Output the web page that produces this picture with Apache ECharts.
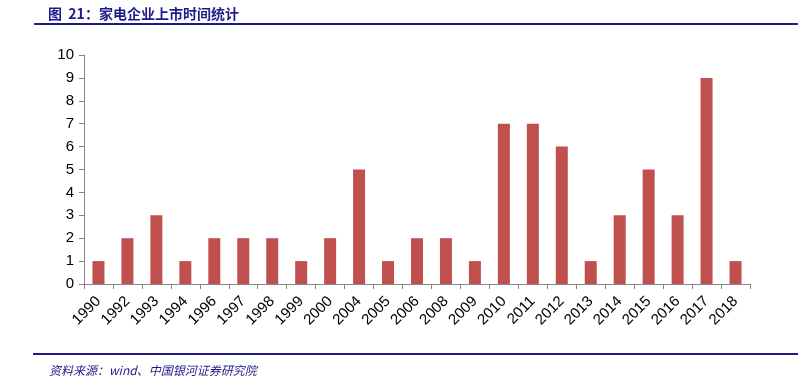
<!DOCTYPE html>
<html>
<head>
<meta charset="utf-8">
<script src="https://cdn.jsdelivr.net/npm/echarts@6/dist/echarts.min.js"></script>
<style>
html,body{margin:0;padding:0;background:#fff;}
#main{width:798px;height:378px;}
</style>
</head>
<body>
<div id="main"></div>
<script>
var years = ['1990','1992','1993','1994','1996','1997','1998','1999','2000','2004','2005','2006','2008','2009','2010','2011','2012','2013','2014','2015','2016','2017','2018'];
var counts = [1,2,3,1,2,2,2,1,2,5,1,2,2,1,7,7,6,1,3,5,3,9,1];
var yTicks = [0,1,2,3,4,5,6,7,8,9,10];

var chart = echarts.init(document.getElementById('main'));
chart.setOption({
    animation: false,
    title: [
        {
            text: '图  21：家电企业上市时间统计',
            left: 43, top: 2,
            textStyle: {fontFamily: 'Noto Sans CJK SC', fontSize: 14, fontWeight: 'bold', color: '#1f1a8a'}
        },
        {
            text: '资料来源：wind、中国银河证券研究院',
            left: 44, top: 359,
            textStyle: {fontFamily: 'Noto Sans CJK SC', fontSize: 12, fontWeight: 'normal', fontStyle: 'italic', color: '#1f1a8a'}
        }
    ],
    graphic: [
        {type: 'rect', shape: {x: 34, y: 23, width: 764, height: 2}, style: {fill: '#1f1a8a'}},
        {type: 'rect', shape: {x: 33, y: 353, width: 765, height: 2}, style: {fill: '#1f1a8a'}}
    ],
    grid: {left: 84, right: 48, top: 55, bottom: 94},
    xAxis: {
        type: 'category',
        data: years,
        axisLine: {lineStyle: {color: '#868686'}},
        axisTick: {show: true, length: 5, interval: 0, lineStyle: {color: '#868686'}},
        axisLabel: {interval: 0, rotate: 45, color: '#000', fontSize: 15, fontFamily: 'Liberation Sans', margin: 15}
    },
    yAxis: {
        type: 'value',
        min: yTicks[0],
        max: yTicks[yTicks.length - 1],
        interval: 1,
        axisLine: {show: true, lineStyle: {color: '#868686'}},
        axisTick: {show: true, length: 5, lineStyle: {color: '#868686'}},
        splitLine: {show: false},
        axisLabel: {color: '#000', fontSize: 15, fontFamily: 'Liberation Sans', margin: 10}
    },
    series: [{
        type: 'bar',
        data: counts,
        barWidth: 12,
        itemStyle: {color: '#C0504D'}
    }]
});
</script>
</body>
</html>
